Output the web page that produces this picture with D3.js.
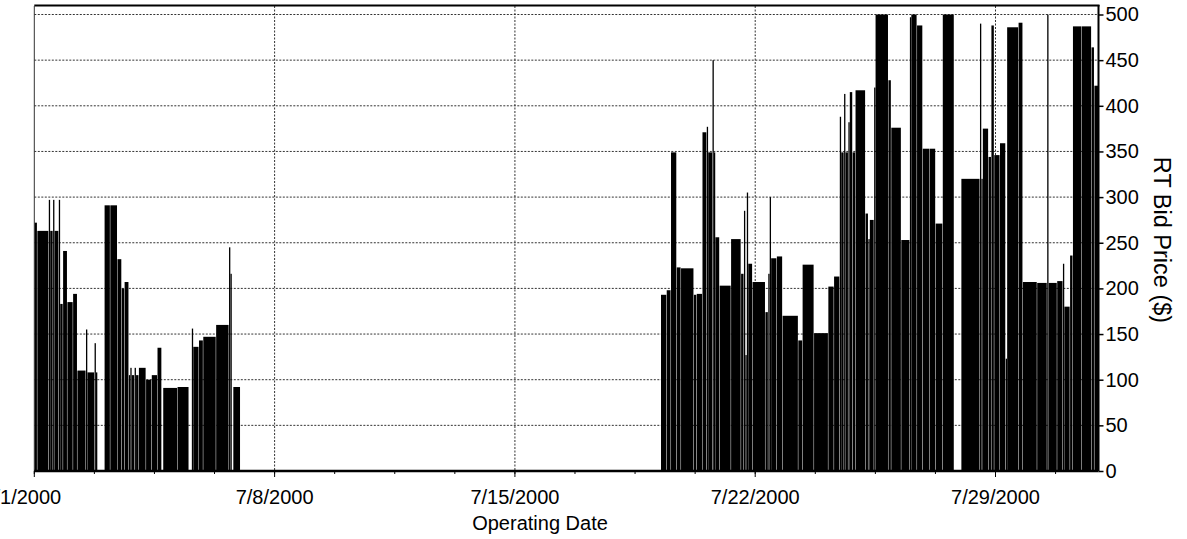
<!DOCTYPE html>
<html>
<head>
<meta charset="utf-8">
<script src="https://cdn.jsdelivr.net/npm/d3@7"></script>
<style>
  body { margin: 0; background: #fff; }
  svg text { font-family: Arial, "Liberation Sans", sans-serif; fill: #000; }
</style>
</head>
<body>
<svg id="svg" width="1187" height="539"></svg>
<script>
// hourly RT bid price, stored as runs: a run starts at blockStart (hours after 7/1/2000 00:00)
// and lasts until the next run starts
const blockStart = [
  0, 2, 10, 11, 13, 14, 17, 18, 20, 23, 27, 30, 36, 37, 42, 43, 44,
  49, 53, 58, 61, 63, 66, 67, 68, 70, 71, 73, 78, 82, 86, 89, 90, 100, 108,
  110, 111, 115, 118, 127, 136, 137, 138, 139, 144,
  438, 442, 445, 449, 452, 461, 463, 467, 470, 471, 474, 475, 476, 479, 487,
  494, 496, 497, 498, 499, 502, 511, 513, 514, 515, 519, 523, 534, 537, 545,
  555, 559, 563, 564, 566, 567, 569, 570, 572, 574, 581, 583, 584, 587, 588,
  597, 599, 606, 612, 613, 617, 621, 626, 630, 635, 643, 648, 661, 662, 663,
  667, 669, 671, 675, 679, 680, 688, 691, 701, 708, 709, 715, 719, 720, 724,
  726, 732, 739, 741
];
const blockPrice = [
  272, 263, 297, 263, 297, 263, 297, 183, 241, 185, 194, 110, 155, 108, 140, 108, 0,
  291, 291, 232, 200, 207, 105, 113, 105, 113, 105, 113, 100, 105, 135, 0, 91, 92, 0,
  156, 136, 143, 147, 160, 245, 216, 0, 92, 0,
  193, 198, 349, 223, 222, 193, 194, 371, 377, 349, 450, 349, 256, 203, 254,
  216, 285, 127, 305, 227, 207, 174, 216, 300, 233, 235, 170, 143, 226, 151,
  202, 213, 388, 349, 413, 349, 382, 415, 349, 417, 282, 254, 275, 420, 500,
  428, 376, 253, 497, 500, 488, 353, 353, 271, 500, 0, 320, 490, 320, 375,
  344, 488, 346, 359, 123, 486, 491, 207, 206, 500, 206, 208, 227, 180, 236,
  487, 487, 464, 422
];
const lastHour = 744;

const yTicks = [0, 50, 100, 150, 200, 250, 300, 350, 400, 450, 500];
const weekTicks = ['2000-07-01', '2000-07-08', '2000-07-15', '2000-07-22', '2000-07-29'];

const t0 = Date.UTC(2000, 6, 1);
const hourDate = h => new Date(t0 + h * 3600e3);

const svg = d3.select('#svg');
const plotLeft = 34.3, plotRight = 1098.5, plotTop = 14.5, plotBottom = 471;

const x = d3.scaleUtc()
  .domain([new Date(t0), new Date(Date.UTC(2000, 7, 1))])
  .range([plotLeft, plotRight]);
const y = d3.scaleLinear().domain([0, 500]).range([plotBottom, plotTop]);

const majors = weekTicks.map(s => new Date(s + 'T00:00:00Z'));
const minors = d3.range(0, lastHour + 1, 42).map(hourDate);

// grid
const grid = svg.append('g').attr('stroke', '#333').attr('stroke-width', 1)
  .attr('stroke-dasharray', '2,1.5');
grid.selectAll('line.h').data(yTicks.filter(d => d > 0)).join('line')
  .attr('x1', plotLeft).attr('x2', plotRight)
  .attr('y1', d => y(d)).attr('y2', d => y(d));
grid.selectAll('line.v').data(majors.slice(1)).join('line')
  .attr('x1', d => x(d)).attr('x2', d => x(d))
  .attr('y1', 6).attr('y2', plotBottom);

// bars
const blocks = blockStart.map((s, i) => ({
  start: s,
  end: i + 1 < blockStart.length ? blockStart[i + 1] : lastHour,
  price: blockPrice[i]
})).filter(d => d.price > 0);

svg.append('g').selectAll('rect').data(blocks).join('rect')
  .attr('x', d => x(hourDate(d.start)) + 0.2)
  .attr('width', d => Math.max(1.3, x(hourDate(d.end)) - x(hourDate(d.start)) - 0.45))
  .attr('y', d => y(d.price))
  .attr('height', d => y(0) - y(d.price))
  .attr('fill', '#000');

// frame
svg.append('line').attr('x1', plotLeft).attr('x2', plotRight + 1).attr('y1', 5.5).attr('y2', 5.5)
  .attr('stroke', '#000').attr('stroke-width', 2);
svg.append('line').attr('x1', plotLeft).attr('x2', plotLeft).attr('y1', 6).attr('y2', plotBottom)
  .attr('stroke', '#333').attr('stroke-width', 1);

// x axis
const xAxis = svg.append('g').attr('transform', `translate(0,${plotBottom})`);
xAxis.append('line').attr('x1', plotLeft).attr('x2', plotRight).attr('stroke', '#000').attr('stroke-width', 2.5);
xAxis.selectAll('line.minor').data(minors).join('line')
  .attr('x1', d => x(d)).attr('x2', d => x(d)).attr('y1', 0).attr('y2', 3)
  .attr('stroke', '#000');
xAxis.selectAll('line.major').data(majors).join('line')
  .attr('x1', d => x(d)).attr('x2', d => x(d)).attr('y1', 0).attr('y2', 6)
  .attr('stroke', '#000');
const fmt = d3.utcFormat('%-m/%-d/%Y');
xAxis.selectAll('text').data(majors).join('text')
  .attr('x', (d, i) => x(d) - (i === 0 ? 12 : 0))
  .attr('y', 33)
  .attr('text-anchor', 'middle')
  .style('font-size', '20px')
  .text(d => fmt(d));

// y axis on the right
const yAxis = svg.append('g').attr('transform', `translate(${plotRight},0)`)
  .call(d3.axisRight(y).tickValues(yTicks).tickSize(5).tickPadding(2));
yAxis.select('.domain').attr('stroke', '#000').attr('stroke-width', 2)
  .attr('d', `M0,5V${plotBottom}`);
yAxis.selectAll('.tick line').attr('stroke', '#000').attr('stroke-width', 1.5);
yAxis.selectAll('.tick text').style('font-size', '20px')
  .style('font-family', 'Arial, "Liberation Sans", sans-serif').attr('fill', '#000');

// titles
svg.append('text')
  .attr('x', 540).attr('y', 530)
  .attr('text-anchor', 'middle').style('font-size', '20px')
  .text('Operating Date');
svg.append('text')
  .attr('transform', `translate(1154,240) rotate(90)`)
  .attr('text-anchor', 'middle').style('font-size', '23.5px')
  .text('RT Bid Price ($)');
</script>
</body>
</html>
